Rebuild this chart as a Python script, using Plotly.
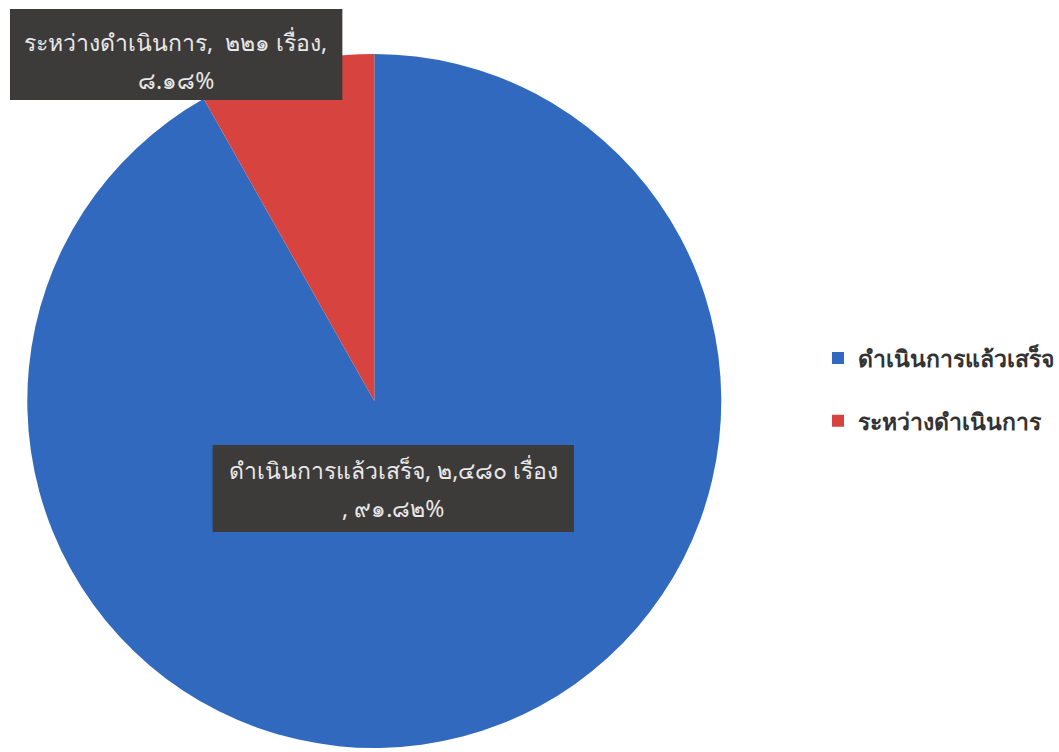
import plotly.graph_objects as go

labels = ["ดำเนินการแล้วเสร็จ", "ระหว่างดำเนินการ"]
values = [2480, 221]
colors = ["#3169be", "#d7433f"]
unit = "เรื่อง"

TH = str.maketrans("0123456789", "๐๑๒๓๔๕๖๗๘๙")
def th(s):
    return s.translate(TH)

total = sum(values)
pct = [v / total * 100 for v in values]

# legend rows are spaced widely in the reference: pad each entry with an empty second line
legend_labels = [f"<b>{l}</b><br> " for l in labels]

W, H = 1059, 752

fig = go.Figure(go.Pie(
    labels=legend_labels, values=values, sort=False, direction="clockwise", rotation=0,
    marker=dict(colors=colors, line=dict(width=0)),
    textinfo="none", hoverinfo="value+percent",
    domain=dict(x=[15 / W, 735 / W], y=[4 / H, 698 / H]),
))

label_font = dict(family="Noto Sans, DejaVu Sans, sans-serif", size=23, color="#e8e8e8")
box_color = "#3d3a3a"

red_lines = [f"{labels[1]},  {th(f'{values[1]:,}')} {unit},", f"{th(f'{pct[1]:.2f}')}%"]
blue_lines = [f"{labels[0]}, {th(f'{values[0]:,}')} {unit}", f", {th(f'{pct[0]:.2f}')}%"]

def data_label(box, cx, line_ys, lines):
    x0, y0, x1, y1 = box
    fig.add_shape(type="rect", xref="paper", yref="paper",
                  x0=x0 / W, x1=x1 / W, y0=1 - y1 / H, y1=1 - y0 / H,
                  fillcolor=box_color, line=dict(width=0), layer="above")
    for ly, t in zip(line_ys, lines):
        fig.add_annotation(x=cx / W, y=1 - ly / H, xref="paper", yref="paper", text=t,
                           xanchor="center", yanchor="middle", showarrow=False,
                           font=label_font)

data_label((10, 9, 343, 100), 176, (42, 80), red_lines)
data_label((213, 445, 575, 532), 394, (470, 508), blue_lines)

fig.update_layout(
    width=W, height=H,
    margin=dict(l=0, r=0, t=0, b=0),
    paper_bgcolor="white", plot_bgcolor="white",
    showlegend=True,
    legend=dict(x=0.774, y=0.462, xanchor="left", yanchor="middle", valign="top",
                font=dict(family="Noto Sans, DejaVu Sans, sans-serif", size=23, color="#333333"),
                itemwidth=30),
)

fig.write_html("out.html")
